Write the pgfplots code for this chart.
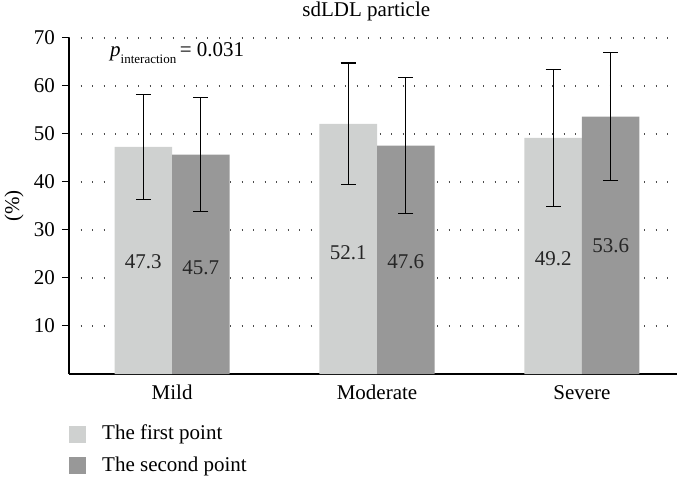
\documentclass[border=0pt]{standalone}
\usepackage{fontspec}
\setmainfont{Liberation Serif}
\usepackage{pgfplots}
\pgfplotsset{compat=1.18}
\definecolor{lightbar}{HTML}{CFD1D0}
\definecolor{darkbar}{HTML}{989898}
\begin{document}
\fontsize{21bp}{25bp}\selectfont
\begin{tikzpicture}
\path[use as bounding box] (0,0) rectangle (677bp,481bp);
\begin{axis}[
  at={(69bp,107bp)}, anchor=south west,
  scale only axis, width=608bp, height=336bp,
  xmin=-0.503, xmax=2.464, ymin=0, ymax=70,
  clip=false,
  axis x line*=bottom, axis y line*=left,
  axis line style={-, black, line width=1.2bp},
  xtick={0,1,2}, xticklabels={Mild,Moderate,Severe},
  ytick={10,20,...,70},
  xtick style={draw=none},
  ytick style={black, line width=1bp},
  tick align=outside, major tick length=7bp,
  ymajorgrids,
  grid style={black!70, line width=1.1bp, dash pattern=on 1.1bp off 10.4bp},
  /pgf/number format/assume math mode=true,
  tick label style={font=\fontsize{21bp}{25bp}\selectfont},
  yticklabel style={anchor=east},
  xticklabel style={anchor=base, yshift=-18bp},
  ylabel={(\%)},
  every axis y label/.style={at={(axis description cs:-0.0905,0.5)}, rotate=90, anchor=center},
  legend style={at={(axis description cs:0,0)}, anchor=north west, yshift=-51bp,
    draw=none, fill=none, inner sep=0pt, row sep=14bp,
    nodes={inner sep=0pt, anchor=west}},
  legend cell align=left,
]
\addplot[ybar, bar width=57.5bp, bar shift=0pt, fill=lightbar, draw=none,
  legend image code/.code={\fill[lightbar] (0bp,-8.5bp) rectangle (17bp,8.5bp);},
  error bars/.cd, y dir=both, y explicit,
  error bar style={black, line width=1.2bp},
  error mark options={black, line width=1.2bp, mark size=7.5bp, rotate=90}]
  coordinates {(-0.1403,47.3) +- (0,11.0) (0.8597,52.1) +- (0,12.7) (1.8597,49.2) +- (0,14.3)};
\addlegendentry{\hspace{16bp}The first point}
\addplot[ybar, bar width=57.5bp, bar shift=0pt, fill=darkbar, draw=none,
  legend image code/.code={\fill[darkbar] (0bp,-8.5bp) rectangle (17bp,8.5bp);},
  error bars/.cd, y dir=both, y explicit,
  error bar style={black, line width=1.2bp},
  error mark options={black, line width=1.2bp, mark size=7.5bp, rotate=90}]
  coordinates {(0.1403,45.7) +- (0,11.9) (1.1403,47.6) +- (0,14.2) (2.1403,53.6) +- (0,13.3)};
\addlegendentry{\hspace{16bp}The second point}
\addplot[forget plot, draw=none, mark=none, nodes near coords, point meta=explicit symbolic,
  every node near coord/.append style={anchor=center, font=\fontsize{21bp}{25bp}\selectfont, text=black!85}]
  coordinates {(-0.1403,23.3)[47.3] (0.8597,25.2)[52.1] (1.8597,24.0)[49.2]
               (0.1403,22.1)[45.7] (1.1403,23.5)[47.6] (2.1403,26.8)[53.6]};
\node[anchor=base] at (axis description cs:0.489,1.0625) {sdLDL particle};
\node[anchor=base west] at (axis description cs:0.0559,0.9435)
  {\textit{p}\raisebox{-0.3em}{\fontsize{13bp}{13bp}\selectfont interaction}\,= 0.031};
\end{axis}
\end{tikzpicture}
\end{document}
